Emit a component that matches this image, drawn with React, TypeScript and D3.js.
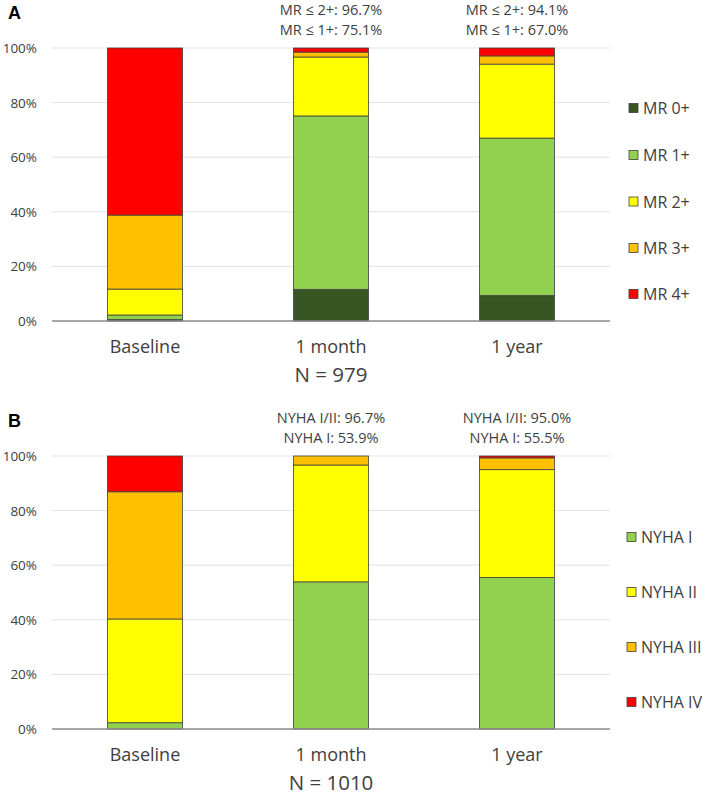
import React from "react";
import * as d3 from "d3";

const categories = ["Baseline", "1 month", "1 year"];

const mrKeys = ["MR 0+", "MR 1+", "MR 2+", "MR 3+", "MR 4+"];
const mrColors = ["#375623", "#92D050", "#FFFF00", "#FFC000", "#FF0000"];
const mr0 = [0.5, 11.6, 9.3];
const mr1 = [1.7, 63.5, 57.7];
const mr2 = [9.5, 21.6, 27.1];
const mr3 = [27.1, 1.8, 3.0];
const mr4 = [61.2, 1.5, 2.9];
const mrNote1 = ["", "MR ≤ 2+: 96.7%", "MR ≤ 2+: 94.1%"];
const mrNote2 = ["", "MR ≤ 1+: 75.1%", "MR ≤ 1+: 67.0%"];

const nyKeys = ["NYHA I", "NYHA II", "NYHA III", "NYHA IV"];
const nyColors = ["#92D050", "#FFFF00", "#FFC000", "#FF0000"];
const ny1 = [2.3, 53.9, 55.5];
const ny2 = [38.0, 42.8, 39.5];
const ny3 = [46.6, 3.3, 4.3];
const ny4 = [13.1, 0.0, 0.7];
const nyNote1 = ["", "NYHA I/II: 96.7%", "NYHA I/II: 95.0%"];
const nyNote2 = ["", "NYHA I: 53.9%", "NYHA I: 55.5%"];

const yTicks = [0, 20, 40, 60, 80, 100];

const FONT = "'Open Sans', 'Noto Sans CJK JP', sans-serif";
const TXT = "#404040";

type PanelProps = {
  label: string;
  top: number;
  keys: string[];
  colors: string[];
  series: number[][];
  note1: string[];
  note2: string[];
  nText: string;
  legendY: number[];
  legendX: number;
};

function Panel(p: PanelProps) {
  const y0 = p.top + 321; // 0%
  const y100 = p.top + 48; // 100%
  const x = d3.scaleBand<string>().domain(categories).range([52, 610]).paddingInner(0.597).paddingOuter(0.2985);
  const y = d3.scaleLinear().domain([0, 100]).range([y0, y100]);
  const rows = categories.map((c, i) => {
    const o: any = { cat: c };
    p.keys.forEach((k, j) => (o[k] = p.series[j][i]));
    return o;
  });
  const stacked = d3.stack<any>().keys(p.keys)(rows);
  return (
    <g>
      <text x={8} y={p.top + 19} fontFamily="Arial, sans-serif" fontWeight="bold" fontSize={18} fill="#000">
        {p.label}
      </text>
      {yTicks.map((t) => (
        <g key={t}>
          {t > 0 && <line x1={52} x2={610} y1={y(t)} y2={y(t)} stroke="#e3e3e3" strokeWidth={1} />}
          <text x={37} y={y(t) + 5} textAnchor="end" fontFamily={FONT} fontSize={13.5} fill={TXT}>
            {t}%
          </text>
        </g>
      ))}
      {stacked.map((s, j) =>
        s.map((d, i) => {
          const h = y(d[0]) - y(d[1]);
          if (h <= 0) return null;
          return (
            <rect
              key={j + "-" + i}
              x={x(categories[i])!}
              y={y(d[1])}
              width={x.bandwidth()}
              height={h}
              fill={p.colors[j]}
              stroke="#404040"
              strokeWidth={0.8}
            />
          );
        })
      )}
      <line x1={52} x2={610} y1={y0} y2={y0} stroke="#8a8a8a" strokeWidth={1.3} />
      {categories.map((c, i) => (
        <g key={c}>
          <text x={x(c)! + x.bandwidth() / 2} y={y0 + 32} textAnchor="middle" fontFamily={FONT} fontSize={18} fill={TXT}>
            {c}
          </text>
          {p.note1[i] && (
            <text x={x(c)! + x.bandwidth() / 2} y={p.top + 15} textAnchor="middle" fontFamily={FONT} fontSize={14.5} fill={TXT}>
              {p.note1[i]}
            </text>
          )}
          {p.note2[i] && (
            <text x={x(c)! + x.bandwidth() / 2} y={p.top + 35} textAnchor="middle" fontFamily={FONT} fontSize={14.5} fill={TXT}>
              {p.note2[i]}
            </text>
          )}
        </g>
      ))}
      <text x={x(categories[1])! + x.bandwidth() / 2} y={y0 + 61} textAnchor="middle" fontFamily={FONT} fontSize={20.5} fill={TXT}>
        {p.nText}
      </text>
      {p.keys.map((k, j) => (
        <g key={k}>
          <rect x={p.legendX} y={p.legendY[j] - 4.5} width={9} height={9} fill={p.colors[j]} stroke="#404040" strokeWidth={0.8} />
          <text x={p.legendX + 14} y={p.legendY[j] + 6} fontFamily={FONT} fontSize={16} fill={TXT}>
            {k}
          </text>
        </g>
      ))}
    </g>
  );
}

export default function App() {
  return (
    <svg
      width={709}
      height={795}
      style={{ position: "absolute", left: 0, top: 0, background: "#fff", display: "block" }}
    >
      <rect x={0} y={0} width={709} height={795} fill="#fff" />
      <Panel
        label="A"
        top={0}
        keys={mrKeys}
        colors={mrColors}
        series={[mr0, mr1, mr2, mr3, mr4]}
        note1={mrNote1}
        note2={mrNote2}
        nText="N = 979"
        legendY={[108, 155, 201.5, 248, 294]}
        legendX={629}
      />
      <Panel
        label="B"
        top={408}
        keys={nyKeys}
        colors={nyColors}
        series={[ny1, ny2, ny3, ny4]}
        note1={nyNote1}
        note2={nyNote2}
        nText="N = 1010"
        legendY={[537, 592, 647, 702]}
        legendX={627}
      />
    </svg>
  );
}
